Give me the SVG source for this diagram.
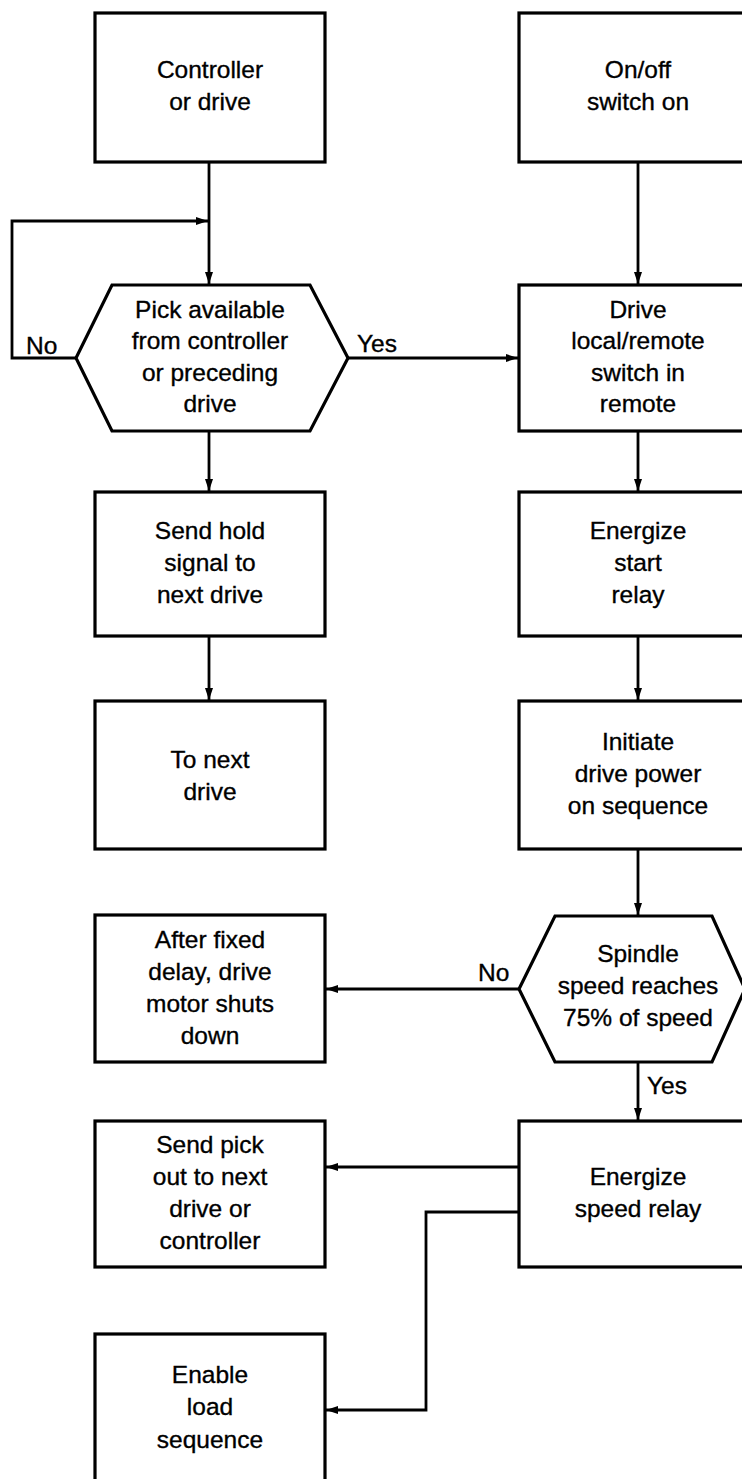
<svg xmlns="http://www.w3.org/2000/svg" width="742" height="1479" viewBox="0 0 742 1479">
<style>
.box{fill:#fff;stroke:#000;stroke-width:3.2}
.ln{fill:none;stroke:#000;stroke-width:2.8}
text{font-family:"Liberation Sans",Arial,sans-serif;font-size:24.5px;fill:#000;stroke:#000;stroke-width:0.35}
.c{text-anchor:middle}
</style>
<defs>
<marker id="ah" viewBox="0 0 12 8" refX="12" refY="4" markerWidth="12" markerHeight="8" markerUnits="userSpaceOnUse" orient="auto">
<path d="M0,0 L12,4 L0,8 Z" fill="#000"/>
</marker>
</defs>
<rect width="742" height="1479" fill="#fff"/>
<g id="connectors">
<path class="ln" d="M209,162 V284" marker-end="url(#ah)"/>
<path class="ln" d="M76,358 H12 V221 H208" marker-end="url(#ah)"/>
<path class="ln" d="M348,358 H518" marker-end="url(#ah)"/>
<path class="ln" d="M638,162 V284" marker-end="url(#ah)"/>
<path class="ln" d="M209,431 V491" marker-end="url(#ah)"/>
<path class="ln" d="M638,431 V491" marker-end="url(#ah)"/>
<path class="ln" d="M209,636 V700" marker-end="url(#ah)"/>
<path class="ln" d="M638,636 V700" marker-end="url(#ah)"/>
<path class="ln" d="M638,849 V915" marker-end="url(#ah)"/>
<path class="ln" d="M519,989 H326" marker-end="url(#ah)"/>
<path class="ln" d="M638,1062 V1120" marker-end="url(#ah)"/>
<path class="ln" d="M519,1167 H326" marker-end="url(#ah)"/>
<path class="ln" d="M519,1212 H426 V1410 H326" marker-end="url(#ah)"/>
<text x="26" y="354">No</text>
<text x="357" y="352">Yes</text>
<text x="478" y="981">No</text>
<text x="647" y="1094">Yes</text>
</g>
<g id="n1"><rect class="box" x="95" y="13" width="230" height="149"/>
<text class="c" x="210" y="78">Controller</text><text class="c" x="210" y="110">or drive</text></g>
<g id="n2"><rect class="box" x="519" y="13" width="240" height="149"/>
<text class="c" x="638" y="78">On/off</text><text class="c" x="638" y="110">switch on</text></g>
<g id="n3"><polygon class="box" points="112,285 310,285 348,358 310,431 112,431 76,358"/>
<text class="c" x="210" y="318">Pick available</text><text class="c" x="210" y="349">from controller</text><text class="c" x="210" y="381">or preceding</text><text class="c" x="210" y="412">drive</text></g>
<g id="n4"><rect class="box" x="519" y="285" width="240" height="146"/>
<text class="c" x="638" y="318">Drive</text><text class="c" x="638" y="349">local/remote</text><text class="c" x="638" y="381">switch in</text><text class="c" x="638" y="412">remote</text></g>
<g id="n5"><rect class="box" x="95" y="492" width="230" height="144"/>
<text class="c" x="210" y="539">Send hold</text><text class="c" x="210" y="571">signal to</text><text class="c" x="210" y="603">next drive</text></g>
<g id="n6"><rect class="box" x="519" y="492" width="240" height="144"/>
<text class="c" x="638" y="539">Energize</text><text class="c" x="638" y="571">start</text><text class="c" x="638" y="603">relay</text></g>
<g id="n7"><rect class="box" x="95" y="701" width="230" height="148"/>
<text class="c" x="210" y="768">To next</text><text class="c" x="210" y="800">drive</text></g>
<g id="n8"><rect class="box" x="519" y="701" width="240" height="148"/>
<text class="c" x="638" y="750">Initiate</text><text class="c" x="638" y="782">drive power</text><text class="c" x="638" y="814">on sequence</text></g>
<g id="n9"><rect class="box" x="95" y="915" width="230" height="147"/>
<text class="c" x="210" y="948">After fixed</text><text class="c" x="210" y="980">delay, drive</text><text class="c" x="210" y="1012">motor shuts</text><text class="c" x="210" y="1044">down</text></g>
<g id="n10"><polygon class="box" points="555,916 712,916 745,989 712,1062 555,1062 519,989"/>
<text class="c" x="638" y="962">Spindle</text><text class="c" x="638" y="994">speed reaches</text><text class="c" x="638" y="1026">75% of speed</text></g>
<g id="n11"><rect class="box" x="95" y="1121" width="230" height="146"/>
<text class="c" x="210" y="1153">Send pick</text><text class="c" x="210" y="1185">out to next</text><text class="c" x="210" y="1217">drive or</text><text class="c" x="210" y="1249">controller</text></g>
<g id="n12"><rect class="box" x="519" y="1121" width="240" height="146"/>
<text class="c" x="638" y="1185">Energize</text><text class="c" x="638" y="1217">speed relay</text></g>
<g id="n13"><rect class="box" x="95" y="1334" width="230" height="160"/>
<text class="c" x="210" y="1383">Enable</text><text class="c" x="210" y="1415">load</text><text class="c" x="210" y="1448">sequence</text></g>
</svg>
